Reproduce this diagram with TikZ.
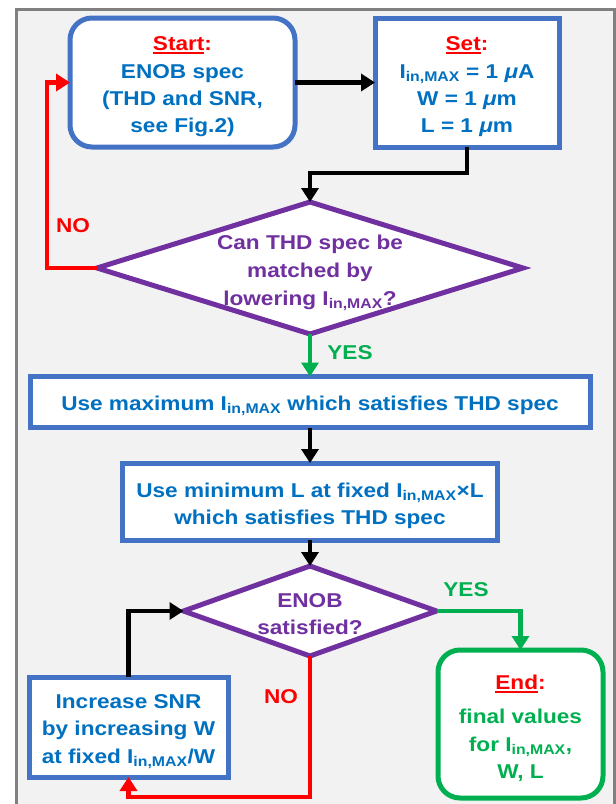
\documentclass[tikz,border=0pt]{standalone}
\usepackage{fontspec}
\setmainfont{Liberation Sans}[FakeStretch=1.13]
\usetikzlibrary{shapes.geometric,arrows.meta}
\definecolor{boxblue}{HTML}{4472C4}
\definecolor{txtblue}{HTML}{0070C0}
\definecolor{dpurple}{HTML}{7030A0}
\definecolor{dgreen}{HTML}{00B050}
\definecolor{framegray}{HTML}{808080}
\definecolor{bggray}{HTML}{F2F2F2}
\newcommand{\Imax}{I\textsubscript{in,MAX}}
\newcommand{\redul}[1]{\setbox0\hbox{#1}\rlap{\color{red}\rule[-3.5pt]{\wd0}{2pt}}\box0}
\newcommand{\mumu}{\textit{μ}}
\newcommand{\pushdn}{\rule{0pt}{23pt}}
\begin{document}
\begin{tikzpicture}[x=1pt,y=-1pt,
  every node/.style={font=\fontsize{20}{27.3}\selectfont\bfseries, align=center, inner sep=0pt, outer sep=0pt},
  bluebox/.style={draw=boxblue, line width=5pt, fill=white, text=txtblue},
  dia/.style={diamond, draw=dpurple, line width=5pt, fill=white},
  conn/.style={line width=4.5pt, -{Triangle[width=17pt,length=14pt]}},
  lbl/.style={font=\fontsize{20}{27}\selectfont\bfseries}
]
\useasboundingbox (0,0) rectangle (616,804);
\draw[framegray, line width=3pt, fill=bggray] (16,9) rectangle (614,830);

\node[bluebox, rounded corners=22pt, minimum width=225pt, minimum height=129pt] (start) at (182.5,82.5)
  {\pushdn{\color{red}\redul{Start}:}\\ENOB spec\\(THD and SNR,\\see Fig.2)};
\node[bluebox, minimum width=184pt, minimum height=129pt] (set) at (467,82.5)
  {\pushdn{\color{red}\redul{Set}:}\\\Imax{} = 1 \mumu A\\W = 1 \mumu m\\L = 1 \mumu m};

\node[dia, minimum width=426pt, minimum height=132pt] (d1) at (310,268) {};
\node[text=dpurple, font=\fontsize{20}{28}\selectfont\bfseries] (d1t) at (310,273) {Can THD spec be\\matched by\\lowering \Imax?};

\node[bluebox, minimum width=560pt, minimum height=51pt] (b3) at (310,402)
  {\pushdn Use maximum \Imax{} which satisfies THD spec};
\node[bluebox, minimum width=375pt, minimum height=77pt] (b2) at (310,501.5)
  {\pushdn Use minimum L at fixed \Imax×L\\which satisfies THD spec};

\node[dia, minimum width=253pt, minimum height=90pt] (d2) at (310,611) {};
\node[text=dpurple] (d2t) at (310,614) {ENOB\\satisfied?};

\node[draw=dgreen, line width=5pt, fill=white, rounded corners=22pt, text=dgreen,
  minimum width=165pt, minimum height=148pt] (endb) at (520.5,724)
  {\pushdn{\color{red}\redul{End}:}\\[7pt]final values\\for \Imax,\\W, L};
\node[bluebox, minimum width=199pt, minimum height=100pt] (inc) at (128.5,727)
  {\pushdn Increase SNR\\by increasing W\\at fixed \Imax/W};

\coordinate (noL) at (47,268);
\coordinate (noB) at (310,797);

\draw[conn] (start.east) -- (start.east -| set.west);
\draw[conn] (set.south) -- ++(0,26) -| (d1.north);
\draw[conn, red] (d1.west) -- (noL) |- (start.west);
\draw[conn, dgreen] (d1.south) -- (b3.north);
\draw[conn] (b3.south) -- (b2.north);
\draw[conn] (b2.south) -- (d2.north);
\draw[conn, dgreen] (d2.east) -| (endb.north);
\draw[conn, red] (d2.south) -- (noB) -| (inc.south);
\draw[conn] (inc.north) |- (d2.west);

\node[lbl, text=red] (no1) at (73,226) {NO};
\node[lbl, text=dgreen] (yes1) at (350,353) {YES};
\node[lbl, text=dgreen] (yes2) at (466,590) {YES};
\node[lbl, text=red] (no2) at (281,697) {NO};
\end{tikzpicture}
\end{document}
